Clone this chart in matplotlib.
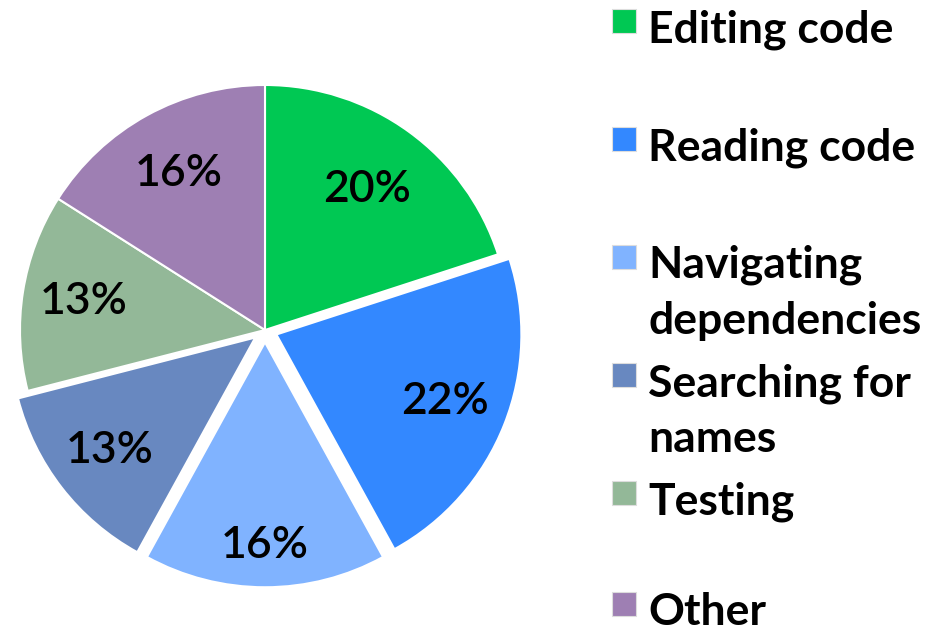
import numpy as np
import matplotlib.pyplot as plt
from matplotlib.patches import Rectangle

labels = ['Editing code', 'Reading code', 'Navigating\ndependencies',
          'Searching for\nnames', 'Testing', 'Other']
shares = [20, 22, 16, 13, 13, 16]
explode = [0, 0.05, 0.05, 0.05, 0, 0]
colors = ['#00c853', '#3388ff', '#80b3ff', '#6888c0', '#93b898', '#9e7fb3']
# how far out each percentage sits (fraction of radius)
pct_dist = [0.71, 0.74, 0.83, 0.75, 0.75, 0.73]

W, H = 937, 633
fig = plt.figure(figsize=(W / 100, H / 100), dpi=100)
ax = fig.add_axes([0, 0, 1, 1])

# pie centre and radius in pixels
cx, cy, r = 265, 330, 245
wedges, texts, autotexts = ax.pie(
    shares, explode=explode, colors=colors, startangle=90, counterclock=False,
    autopct=lambda p: f'{p:.0f}%', pctdistance=0.72,
    wedgeprops=dict(edgecolor='white', linewidth=1.5),
    textprops=dict(fontsize=32, color='black', family='Lato',
                   fontweight='semibold'))
for w, t, d, e in zip(wedges, autotexts, pct_dist, explode):
    a = np.deg2rad((w.theta1 + w.theta2) / 2)
    t.set_position(((d + e) * np.cos(a), (d + e) * np.sin(a)))

ax.set_xlim(-cx / r, (W - cx) / r)
ax.set_ylim(-(H - cy) / r, cy / r)
ax.set_aspect('equal')
ax.axis('off')

# legend drawn by hand, one entry every ~118 px
ys = [21, 139, 257, 375, 493, 604]
for lab, col, y in zip(labels, colors, ys):
    fig.patches.append(Rectangle((612 / W, 1 - (y + 12) / H), 24 / W, 24 / H,
                                 transform=fig.transFigure, facecolor=col,
                                 edgecolor='#dddddd', linewidth=0.8))
    for i, line in enumerate(lab.split('\n')):
        fig.text(648 / W, 1 - (y + 21 + 56 * i) / H, line, fontsize=32,
                 fontweight='bold', va='baseline', ha='left', family='Lato')

fig.savefig('out.png', dpi=100)
